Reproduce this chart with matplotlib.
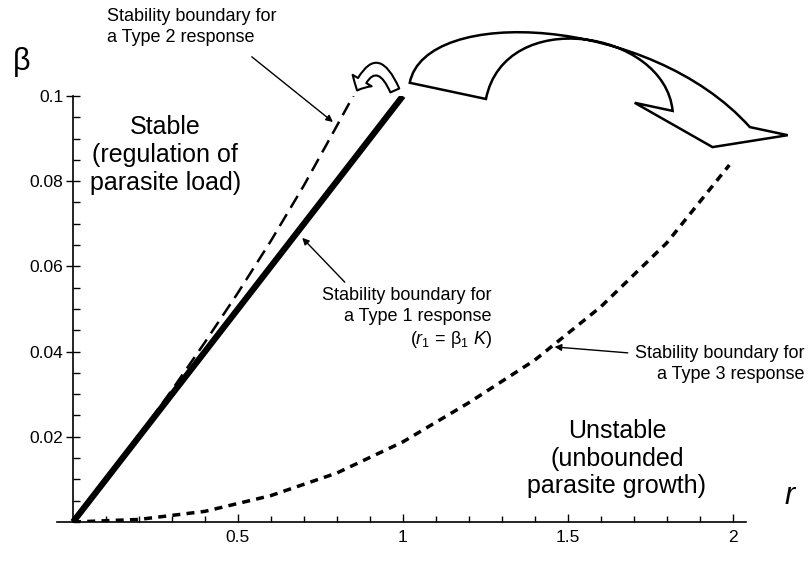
import numpy as np
import matplotlib
matplotlib.use('Agg')
import matplotlib.pyplot as plt
from matplotlib.path import Path
from matplotlib.patches import PathPatch, FancyArrowPatch
from matplotlib.ticker import MultipleLocator

plt.rcParams['font.family'] = ['Liberation Sans', 'DejaVu Sans']
plt.rcParams['mathtext.fontset'] = 'custom'
plt.rcParams['mathtext.rm'] = 'Liberation Sans'
plt.rcParams['mathtext.it'] = 'Liberation Sans:italic'

# Type 1 boundary (r1 = beta1 K), straight line
r_type1 = [0.0, 1.0]
b_type1 = [0.0, 0.1]

# Type 2 boundary, slightly steeper than type 1
r_type2 = [0.0, 0.1, 0.2, 0.3, 0.4, 0.5, 0.6, 0.7, 0.8, 0.855]
b_type2 = [0.0, 0.0100, 0.0203, 0.0310, 0.0422, 0.0538, 0.0660, 0.0790, 0.0930, 0.1008]

# Type 3 boundary, curved
r_type3 = [0.0, 0.2, 0.4, 0.6, 0.8, 1.0, 1.2, 1.4, 1.6, 1.8, 1.99]
b_type3 = [0.0, 0.0006, 0.0025, 0.0062, 0.0115, 0.0188, 0.0280, 0.0380, 0.0505, 0.0655, 0.0838]

x_major = [0.5, 1, 1.5, 2]
x_labels = ['0.5', '1', '1.5', '2']
y_major = [0.02, 0.04, 0.06, 0.08, 0.1]
y_labels = ['0.02', '0.04', '0.06', '0.08', '0.1']

fig = plt.figure(figsize=(8.1, 5.68), dpi=100)
ax = fig.add_axes([0.0698, 0.081, 0.851, 0.75])

ax.plot(r_type1, b_type1, color='black', lw=4.5, solid_capstyle='butt')
ax.plot(r_type2, b_type2, color='black', lw=1.8, dashes=(5.5, 3))
ax.plot(r_type3, b_type3, color='black', lw=2.5, dashes=(2.3, 1.8))

ax.set_xlim(-0.05, 2.04)
ax.set_ylim(0, 0.1)
ax.spines['top'].set_visible(False)
ax.spines['right'].set_visible(False)
ax.spines['left'].set_position(('data', 0))
ax.spines['left'].set_linewidth(1.2)
ax.spines['bottom'].set_linewidth(1.2)

ax.set_xticks(x_major)
ax.set_xticklabels(x_labels)
ax.set_yticks(y_major)
ax.set_yticklabels(y_labels)
ax.xaxis.set_minor_locator(MultipleLocator(0.1))
ax.yaxis.set_minor_locator(MultipleLocator(0.005))
ax.tick_params(axis='x', which='major', direction='in', length=6, width=1, labelsize=12.5, pad=6)
ax.tick_params(axis='x', which='minor', direction='in', length=4, width=1)
ax.tick_params(axis='y', which='major', direction='inout', length=10, width=1, labelsize=12.5, pad=2)
ax.tick_params(axis='y', which='minor', direction='in', length=5, width=1)

# axis symbols
ax.text(-0.155, 0.108, 'β', fontsize=22, ha='center', va='center')
ax.text(2.173, 0.0062, 'r', fontsize=22, style='italic', ha='center', va='center')

# region labels
ax.text(0.28, 0.0955, 'Stable\n(regulation of\nparasite load)', fontsize=18,
        ha='center', va='top', linespacing=1.2)
ax.text(1.649, 0.0242, 'Unstable\n(unbounded\nparasite growth)', fontsize=18,
        ha='center', va='top', linespacing=1.2)

arrow_kw = dict(arrowstyle='-|>', color='black', lw=1, mutation_scale=10,
                shrinkA=0, shrinkB=0)

ax.text(0.103, 0.1207, 'Stability boundary for\na Type 2 response',
        ha='left', va='top', fontsize=13, linespacing=1.3, clip_on=False)
ax.annotate('', xy=(0.788, 0.0939), xytext=(0.542, 0.1092),
            annotation_clip=False, arrowprops=arrow_kw)

ax.text(1.27, 0.0552, 'Stability boundary for\na Type 1 response\n($r_1$ = β$_1$ $K$)',
        ha='right', va='top', fontsize=13, linespacing=1.3, multialignment='right')
ax.annotate('', xy=(0.695, 0.0667), xytext=(0.824, 0.0563),
            annotation_clip=False, arrowprops=arrow_kw)

ax.text(2.218, 0.0415, 'Stability boundary for\na Type 3 response',
        ha='right', va='top', fontsize=13, linespacing=1.3, multialignment='right',
        clip_on=False)
ax.annotate('', xy=(1.46, 0.0411), xytext=(1.682, 0.0397),
            annotation_clip=False, arrowprops=arrow_kw)

# big hollow curved arrow
big_verts = [(1.021, 0.1031), (1.067, 0.1214), (1.748, 0.1190), (2.052, 0.0927),
             (2.167, 0.0908), (1.939, 0.0880), (1.703, 0.0984), (1.818, 0.0965),
             (1.794, 0.1155), (1.309, 0.1214), (1.252, 0.0993), (1.021, 0.1031)]
big_codes = [Path.MOVETO, Path.CURVE4, Path.CURVE4, Path.CURVE4,
             Path.LINETO, Path.LINETO, Path.LINETO, Path.LINETO,
             Path.CURVE4, Path.CURVE4, Path.CURVE4, Path.CLOSEPOLY]
ax.add_patch(PathPatch(Path(big_verts, big_codes), facecolor='white',
                       edgecolor='black', lw=1.8, clip_on=False, joinstyle='miter'))

# small U-turn arrow
small = FancyArrowPatch((0.979, 0.1007), (0.858, 0.1007),
                        connectionstyle='arc3,rad=1.2',
                        arrowstyle='simple,head_length=0.8,head_width=1.6,tail_width=0.7',
                        mutation_scale=10, facecolor='white', edgecolor='black',
                        lw=1.5, clip_on=False)
ax.add_patch(small)

fig.savefig('out.png', dpi=100)
